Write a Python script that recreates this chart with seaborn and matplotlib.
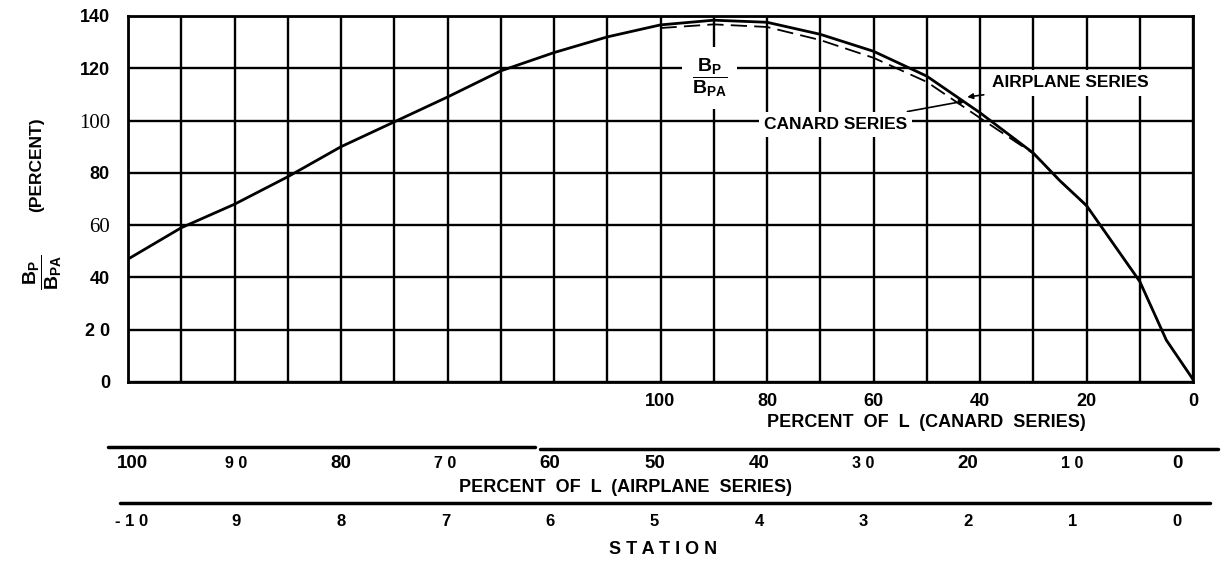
import matplotlib as mpl
import matplotlib.pyplot as plt
from matplotlib.lines import Line2D
import seaborn as sns

# Curve: B_P / B_PA (percent) against percent of L.
airplane_pct = [100, 95, 90, 85, 80, 75, 70, 65, 60, 55, 50, 45, 40, 35,
                30, 25, 20, 15, 12.5, 10, 7.5, 5, 2.5, 0]
airplane_bp = [47, 59, 68, 78.5, 90, 99.5, 109, 119, 126, 132, 136.6, 138.4,
               137.6, 133, 126.5, 117, 103, 87.6, 77, 67.5, 53, 38.5, 16, 1]

canard_pct = [100, 90, 80, 70, 60, 50, 40, 30, 25, 20, 15, 10, 5, 0]
canard_bp = [135.4, 136.8, 135.8, 130.8, 124, 114.8, 101, 87.4, 77, 67.3,
             53, 38.3, 16, 1]

# Axis scales and their printed labels.
y_ticks = [0, 20, 40, 60, 80, 100, 120, 140]
y_labels = ["0", "2 0", "40", "60", "80", "100", "120", "140"]
serif_y = ["60", "100"]

canard_ticks = [100, 80, 60, 40, 20, 0]
canard_labels = ["100", "80", "60", "40", "20", "0"]

airplane_ticks = [100, 90, 80, 70, 60, 50, 40, 30, 20, 10, 0]
airplane_labels = ["100", "9 0", "80", "7 0", "60", "50", "40", "3 0",
                   "20", "1 0", "0"]

station_ticks = [10, 9, 8, 7, 6, 5, 4, 3, 2, 1, 0]
station_labels = ["- 1 0", "9", "8", "7", "6", "5", "4", "3", "2", "1", "0"]

sns.set_style("white")
plt.rcParams["font.family"] = ["Liberation Sans", "DejaVu Sans"]
plt.rcParams["font.weight"] = "bold"
plt.rcParams["text.color"] = "black"
plt.rcParams["xtick.color"] = "black"
plt.rcParams["ytick.color"] = "black"
plt.rcParams["mathtext.fontset"] = "custom"
plt.rcParams["mathtext.bf"] = "Liberation Sans:bold"
plt.rcParams["mathtext.rm"] = "Liberation Sans:bold"
plt.rcParams["mathtext.it"] = "Liberation Sans:bold"
plt.rcParams["mathtext.default"] = "bf"

W, H = 1226, 561


def fx(x):
    return x / W


def fy(y):
    return 1 - y / H


fig = plt.figure(figsize=(W / 100, H / 100), dpi=100)
ax = fig.add_axes([fx(128), fy(382), fx(1193) - fx(128), fy(16) - fy(382)])

# Grid: one vertical line every 5 % of L, horizontals every 20 %.
ax.set_xlim(100, 0)
ax.set_ylim(0, 140)
ax.set_xticks(range(0, 101, 5))
ax.set_yticks(y_ticks, y_labels)
ax.grid(True, color="black", lw=1.7)
ax.set_axisbelow(True)
ax.tick_params(axis="x", length=0, labelbottom=False)
ax.tick_params(axis="y", length=0, pad=13, labelsize=13)
for lbl in ax.get_yticklabels():
    if lbl.get_text() in serif_y:
        lbl.set_fontfamily("Liberation Serif")
        lbl.set_fontweight("normal")
        lbl.set_fontsize(15)
for s in ax.spines.values():
    s.set_color("black")
    s.set_linewidth(2)

sns.lineplot(x=airplane_pct, y=airplane_bp, ax=ax, color="black", lw=2,
             sort=False, zorder=4)

# Canard series: its 100 % of L sits at 50 % of the airplane scale.
cax = ax.twiny()
cax.set_xlim(200, 0)
sns.lineplot(x=canard_pct, y=canard_bp, ax=cax, color="black", lw=1.3,
             sort=False, dashes=False, zorder=4)
cax.lines[-1].set_dashes((9, 4))
cax.set_xticks(canard_ticks, canard_labels)
cax.tick_params(axis="x", top=False, labeltop=False, bottom=True,
                labelbottom=True, length=0, pad=8, labelsize=13)
cax.grid(False)
for s in cax.spines.values():
    s.set_visible(False)

ax.text(0.75, -0.11, "PERCENT  OF  L  (CANARD  SERIES)",
        transform=ax.transAxes, ha="center", va="center", fontsize=13)

# Labels inside the grid.
frac = r"$\dfrac{B_P}{B_{PA}}$"
box = dict(boxstyle="square,pad=0.3", fc="white", ec="none")
ax.text(45.4, 116.3, frac, ha="center", va="center",
        fontsize=14, zorder=5,
        bbox=dict(boxstyle="square,pad=0.5", fc="white", ec="none"))
ax.annotate("AIRPLANE SERIES", xy=(21.2, 109), xytext=(18.9, 114.4),
            ha="left", va="center", fontsize=12.5, zorder=5, bbox=box,
            arrowprops=dict(arrowstyle="-|>", color="black", lw=1.2,
                            shrinkA=2, shrinkB=0, mutation_scale=8))
ax.annotate("CANARD SERIES", xy=(21.4, 107.5), xytext=(40.3, 98.4),
            ha="left", va="center", fontsize=12.5, zorder=5, bbox=box,
            arrowprops=dict(arrowstyle="-|>", color="black", lw=1.2,
                            shrinkA=2, shrinkB=0, mutation_scale=8))

# Y-axis title, rotated.
fig.text(fx(43), fy(272), frac, rotation=90,
         ha="center", va="center", fontsize=14)
fig.text(fx(37), fy(165), "(PERCENT)", rotation=90, ha="center",
         va="center", fontsize=12.5)

# Lower scales: airplane percent of L and station numbers.
pax = fig.add_axes([fx(132), 0, fx(1177) - fx(132), 1])
pax.set_xlim(100, 0)
pax.set_ylim(H, 0)
pax.axis("off")
for v, lab in zip(airplane_ticks, airplane_labels):
    size = 11.5 if " " in lab else 13.5
    pax.text(v, 463, lab, ha="center", va="center", fontsize=size)

stax = fig.add_axes([fx(132), 0, fx(1177) - fx(132), 1])
stax.set_xlim(10, 0)
stax.set_ylim(H, 0)
stax.axis("off")
for v, lab in zip(station_ticks, station_labels):
    stax.text(v, 521, lab, ha="center", va="center", fontsize=12)

fig.text(fx(626), fy(487), "PERCENT  OF  L  (AIRPLANE  SERIES)",
         ha="center", va="center", fontsize=13)
fig.text(fx(663), fy(550), "S T A T I O N", ha="center", va="center",
         fontsize=13)

for x0, x1, y in [(108, 535, 447), (540, 1218, 449), (120, 1210, 503)]:
    fig.add_artist(Line2D([fx(x0), fx(x1)], [fy(y), fy(y)],
                          transform=fig.transFigure, color="black", lw=2.5))

fig.savefig("out.png", dpi=100)
